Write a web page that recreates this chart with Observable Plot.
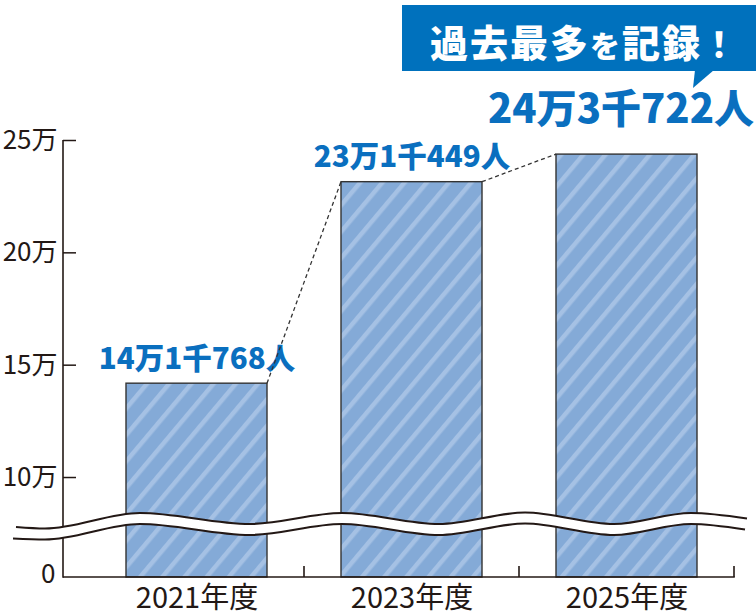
<!DOCTYPE html>
<html><head><meta charset="utf-8">
<script src="https://cdn.jsdelivr.net/npm/d3@7"></script>
<script src="https://cdn.jsdelivr.net/npm/@observablehq/plot@0.6"></script>
<style>body{margin:0;background:#fff}#chart{width:756px;height:614px}</style>
</head><body><div id="chart"></div>
<script>
const years = ["2021年度", "2023年度", "2025年度"];
const values = [141768, 231449, 243722];
const valueLabels = ["14万1千768人", "23万1千449人", "24万3千722人"];
const yTicks = [0, 100000, 150000, 200000, 250000];
const yTickLabels = ["0", "10万", "15万", "20万", "25万"];
const calloutParts = [["過去最多", 38], ["を", 30], ["記録", 38], ["！", 34]];

const data = years.map((year, i) => ({year, value: values[i], label: valueLabels[i]}));
const INK = "#231815", BLUE = "#0a6fbf";
const FONT = "'Noto Sans CJK JP', 'Noto Sans', sans-serif";
const fmt = d => yTickLabels[yTicks.indexOf(d)];

// broken axis: 0–10万 is compressed below the break
const BREAK = 100000, BASE = 55500;
const breakTransform = v => v < BREAK ? BASE + v * (BREAK - BASE) / BREAK : v;

const plot = Plot.plot({
  width: 756, height: 614,
  marginLeft: 76, marginRight: 22, marginTop: 140, marginBottom: 37,
  style: {fontFamily: FONT, background: "#fff", color: INK, overflow: "visible"},
  x: {domain: years, range: [89, 734], paddingInner: 0.344, paddingOuter: 0.172},
  y: {type: "linear", domain: [BASE, 250000], range: [577, 140], transform: breakTransform},
  marks: [
    Plot.barY(data, {x: "year", y1: 0, y2: "value", fill: "url(#stripes)", stroke: "#333", strokeWidth: 1.4}),
    Plot.axisY({ticks: yTicks.filter(d => d >= BREAK), tickFormat: fmt, tickSize: 13, tickPadding: 6,
      fontSize: 26, color: INK, strokeWidth: 1.5, strokeOpacity: 1, label: null}),
    Plot.text(yTicks.filter(d => d < BREAK), {y: d => d, text: fmt, frameAnchor: "left", dx: -21, dy: -3,
      textAnchor: "end", fontSize: 26, fill: INK}),
    Plot.axisX({tickSize: 0, tickPadding: 10, fontSize: 29, color: INK, label: null}),
    Plot.text(data.slice(0, 2), {x: "year", y: "value", text: "label", dy: -15, lineAnchor: "bottom",
      fontSize: 29.5, fontWeight: 900, fill: BLUE, letterSpacing: -0.4}),
    Plot.text(data.slice(2), {x: "year", y: "value", text: "label", dx: -6, dy: -32, lineAnchor: "bottom",
      fontSize: 40, fontWeight: 900, fill: BLUE, letterSpacing: -0.3})
  ]
});
document.getElementById("chart").appendChild(plot);

const svg = d3.select(plot);
const sx = plot.scale("x"), sy = plot.scale("y");
const bw = sx.bandwidth, step = sx.step;
const yPix = v => sy.apply(v); // used only for values above the break

// stripe pattern
const defs = svg.insert("defs", ":first-child");
const pat = defs.append("pattern").attr("id", "stripes").attr("patternUnits", "userSpaceOnUse")
  .attr("width", 17).attr("height", 17).attr("patternTransform", "rotate(40)");
pat.append("rect").attr("width", 17).attr("height", 17).attr("fill", "#84aad7");
pat.append("rect").attr("width", 4.5).attr("height", 17).attr("fill", "#a5c1e4");

const g = svg.append("g").attr("text-anchor", "start");
const axX = 76 - 13;
const y0 = sy.range[0];
// axis lines
g.append("line").attr("x1", axX).attr("x2", axX).attr("y1", yPix(250000)).attr("y2", y0 + 0.75)
  .attr("stroke", INK).attr("stroke-width", 1.6);
g.append("line").attr("x1", axX).attr("x2", sx.range[1] + 0.8).attr("y1", y0).attr("y2", y0)
  .attr("stroke", INK).attr("stroke-width", 1.6);
// category boundary ticks
years.forEach(yr => {
  const xb = sx.apply(yr) + bw + (step - bw) / 2;
  g.append("line").attr("x1", xb).attr("x2", xb).attr("y1", y0).attr("y2", y0 - 11)
    .attr("stroke", INK).attr("stroke-width", 1.6);
});
// dashed connectors
for (let i = 0; i < data.length - 1; i++) {
  g.append("line")
    .attr("x1", sx.apply(data[i].year) + bw).attr("y1", yPix(data[i].value))
    .attr("x2", sx.apply(data[i + 1].year)).attr("y2", yPix(data[i + 1].value))
    .attr("stroke", "#333").attr("stroke-width", 1.3).attr("stroke-dasharray", "4,3");
}
// axis break wave (decoration)
const breakWave = [[45, 528.5], [140, 513], [250, 524], [342, 513], [439, 524], [525, 512.5], [614, 524], [691, 513]];
const upper = [[16, 527], ...breakWave, [747, 518.5]];
const lower = [[13, 538.5], ...breakWave.map(([x, y]) => [x, y + 11]), [745, 529.5]];
const line = d3.line().curve(d3.curveMonotoneX);
const lowerRev = lower.slice().reverse();
const area = line(upper) + "L" + line(lowerRev).slice(1) + "Z";
g.append("path").attr("d", area).attr("fill", "#fff").attr("stroke", "none");
g.append("path").attr("d", line(upper)).attr("fill", "none").attr("stroke", INK).attr("stroke-width", 2.2);
g.append("path").attr("d", line(lower)).attr("fill", "none").attr("stroke", INK).attr("stroke-width", 2.2);

// callout
const CB = "#0071bd";
g.append("rect").attr("x", 402).attr("y", 5).attr("width", 356).attr("height", 66).attr("fill", CB);
g.append("path").attr("d", "M695,70 L714,70 L693,88 Z").attr("fill", CB);
const t = g.append("text").attr("x", 430).attr("y", 57).attr("fill", "#fff").attr("text-anchor", "start")
  .attr("font-family", FONT).attr("font-weight", 900).attr("letter-spacing", 2);
calloutParts.forEach(([s, f]) => t.append("tspan").attr("font-size", f).text(s));
</script>
</body></html>
